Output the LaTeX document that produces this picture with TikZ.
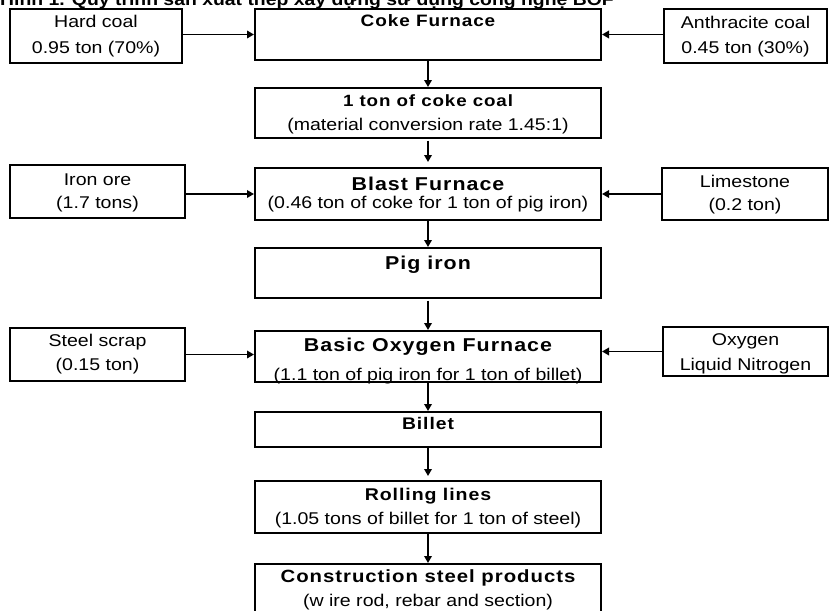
\documentclass[tikz,border=0pt]{standalone}
\usepackage{fontspec}
\setmainfont{Liberation Sans}[FakeStretch=1.15, BoldFeatures={LetterSpace=5.5}]
\newfontfamily\titlefont{Liberation Sans}[FakeStretch=1.14]
\usetikzlibrary{arrows.meta}
\begin{document}
\begin{tikzpicture}[x=1pt,y=-1pt,
  box/.style={draw, line width=2pt, inner sep=0pt},
  arr/.style={line width=1.8pt, -{Triangle[length=7pt,width=7.5pt]}},
  txt/.style={inner sep=0pt, anchor=base, font=\fontsize{17}{20}\selectfont},
  hd/.style={inner sep=0pt, anchor=base, font=\fontsize{#1}{20}\selectfont\bfseries}]
\useasboundingbox (0,0) rectangle (829,610);
\fill[white] (0,0) rectangle (829,610);
% title (cut off at the top, as in the reference)
\node[inner sep=0pt, anchor=base west] (title) at (0,5.5)
  {\titlefont\bfseries\fontsize{17}{20}\selectfont Hình 1. Quy trình sản xuất thép xây dựng sử dụng công nghệ BOF};
% boxes
\node[box, minimum width=172pt, minimum height=54pt] (hard) at (96,36) {};
\node[box, minimum width=346pt, minimum height=51pt] (coke) at (428,34.5) {};
\node[box, minimum width=163pt, minimum height=54pt] (anth) at (745.5,36) {};
\node[box, minimum width=346pt, minimum height=50pt] (coal) at (428,113) {};
\node[box, minimum width=175pt, minimum height=53pt] (iron) at (97.5,191.5) {};
\node[box, minimum width=346pt, minimum height=52pt] (blast) at (428,194) {};
\node[box, minimum width=166pt, minimum height=52pt] (lime) at (745,194) {};
\node[box, minimum width=346pt, minimum height=50pt] (pig) at (428,273) {};
\node[box, minimum width=175pt, minimum height=53pt] (scrap) at (97.5,354.5) {};
\node[box, minimum width=346pt, minimum height=51pt] (bof) at (428,356.5) {};
\node[box, minimum width=165pt, minimum height=49pt] (oxy) at (745.5,351.5) {};
\node[box, minimum width=346pt, minimum height=35pt] (billet) at (428,429.5) {};
\node[box, minimum width=346pt, minimum height=52pt] (roll) at (428,507) {};
\node[box, minimum width=346pt, minimum height=56pt] (cons) at (428,592) {};
% texts
\node[txt] (hard1) at (96,27.3) {Hard coal};
\node[txt] (hard2) at (96,54) {0.95 ton (70\%)};
\node[hd=16.5] (coke1) at (428,26.7) {Coke Furnace};
\node[txt] (anth1) at (745.5,28.3) {Anthracite coal};
\node[txt] (anth2) at (745.5,53.5) {0.45 ton (30\%)};
\node[hd=16.3] (coal1) at (428,106.7) {1 ton of coke coal};
\node[txt] (coal2) at (428,130) {(material conversion rate 1.45:1)};
\node[txt] (iron1) at (97.5,185) {Iron ore};
\node[txt] (iron2) at (97.5,208) {(1.7 tons)};
\node[hd=18.6] (blast1) at (428,190) {Blast Furnace};
\node[txt] (blast2) at (428,208) {(0.46 ton of coke for 1 ton of pig iron)};
\node[txt] (lime1) at (745,187.3) {Limestone};
\node[txt] (lime2) at (745,210) {(0.2 ton)};
\node[hd=18.6] (pig1) at (428,269) {Pig iron};
\node[txt] (scrap1) at (97.5,346.7) {Steel scrap};
\node[txt] (scrap2) at (97.5,370) {(0.15 ton)};
\node[hd=18.6] (bof1) at (428,351.7) {Basic Oxygen Furnace};
\node[txt] (bof2) at (428,380) {(1.1 ton of pig iron for 1 ton of billet)};
\node[txt] (oxy1) at (745.5,345) {Oxygen};
\node[txt] (oxy2) at (745.5,370) {Liquid Nitrogen};
\node[hd=16.8] (billet1) at (428,429.3) {Billet};
\node[hd=17] (roll1) at (428,500.7) {Rolling lines};
\node[txt] (roll2) at (428,524) {(1.05 tons of billet for 1 ton of steel)};
\node[hd=17.7] (cons1) at (428,582.7) {Construction steel products};
\node[txt] (cons2) at (428,606) {(w ire rod, rebar and section)};
% connectors
\draw[arr] (hard.east|-coke.west) -- (coke.west);
\draw[arr] (anth.west|-coke.east) -- (coke.east);
\draw[arr] (coke.south) -- (coal.north);
\draw[arr, shorten <=1.5pt, shorten >=5pt] (coal.south) -- (blast.north);
\draw[arr] (iron.east|-blast.west) -- (blast.west);
\draw[arr] (lime.west|-blast.east) -- (blast.east);
\draw[arr] (blast.south) -- (pig.north);
\draw[arr, shorten <=1.5pt] (pig.south) -- (bof.north);
\draw[arr] (scrap.east) -- (scrap.east-|bof.west);
\draw[arr] (oxy.west) -- (oxy.west-|bof.east);
\draw[arr] (bof.south) -- (billet.north);
\draw[arr, shorten >=4pt] (billet.south) -- (roll.north);
\draw[arr] (roll.south) -- (cons.north);
\end{tikzpicture}
\end{document}
